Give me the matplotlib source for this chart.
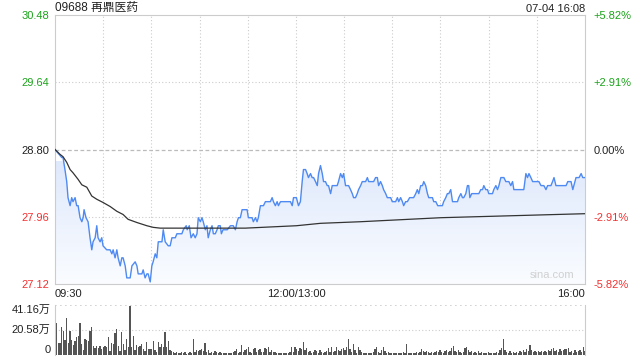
import numpy as np
import matplotlib
matplotlib.use("Agg")
import matplotlib.pyplot as plt
from matplotlib.colors import LinearSegmentedColormap

plt.rcParams['font.family'] = ['Liberation Sans', 'Noto Sans CJK SC', 'DejaVu Sans']

title = "09688 再鼎医药"
stamp = "07-04 16:08"
prev_close = 28.80
max_pct = 5.82
vol_max = 41.16  # 万

# minutes since 09:30 (lunch break removed), last price
price_t = [0, 4.2, 5.0, 6.2, 7.3, 8.1, 9.4, 10.4, 11.2, 12.5, 13.5, 14.4, 15.6, 16.7, 17.5,
           18.1, 19.3, 20.6, 21.8, 22.9, 23.7, 25.0, 26.0, 26.8, 28.1, 29.1, 29.9, 32.2, 34.3,
           35.4, 36.2, 37.4, 38.5, 39.3, 40.6, 41.6, 42.4, 43.7, 44.7, 46.8, 47.9, 49.9, 51.0,
           51.8, 54.1, 54.9, 56.1, 57.2, 58.0, 59.3,
           60.3, 61.1, 62.4, 63.4, 64.3, 66.6, 67.4, 68.6, 70.5, 71.7, 72.8, 74.9, 75.9, 79.0,
           79.9, 81.7, 82.3, 83.6, 84.7, 86.1, 87.3, 88.4, 89.2, 90.5, 91.5, 92.3, 93.6, 94.6,
           95.4, 96.7, 97.8, 98.6, 99.8, 100.9, 101.7, 102.9, 103.6, 104.6, 106.1, 107.3, 109.2,
           111.0, 112.3, 113.4, 114.2, 115.4, 116.5, 117.3, 118.5, 119.6, 120.4, 121.6,
           122.7, 123.5, 124.8, 125.8, 126.6, 127.9, 129.8, 131.0, 132.1, 132.9, 134.1, 135.2,
           136.0, 137.2, 138.3, 139.1, 140.4, 146.6, 147.7, 148.5, 150.3, 151.6, 152.8, 153.9,
           154.7, 156.0, 157.0, 157.8, 159.1, 160.1, 161.0, 162.2, 163.3, 164.1, 165.3, 166.4,
           167.2, 168.4, 169.5, 170.3, 171.6, 172.6, 175.7, 176.5, 177.8, 178.9, 179.7, 180.9,
           182.0, 182.8, 184.0,
           185.1, 185.9, 187.1, 188.2, 189.0, 190.3, 191.3, 193.4, 194.5, 195.3, 198.4, 199.6,
           200.7, 201.5, 202.7, 203.8, 204.6, 205.9, 206.9, 209.0, 210.0, 212.1, 213.2, 214.0,
           215.2, 216.3, 217.1, 218.3, 219.4, 220.8, 223.3, 224.6, 225.6, 226.5, 227.7, 228.8,
           229.6, 230.8, 231.9, 232.7, 235.0, 235.8, 237.1, 238.3, 241.2, 242.0, 243.3, 244.3,
           245.2, 246.4, 247.5, 250.6, 251.4,
           252.7, 253.7, 254.5, 255.8, 256.8, 257.6, 258.3, 259.5, 263.9, 265.1, 266.2, 267.0,
           268.2, 269.3, 270.1, 272.4, 273.2, 274.5, 275.5, 276.4, 277.6, 279.5, 280.7, 282.6,
           283.8, 284.9, 285.7, 291.9, 293.2, 294.2, 295.1, 296.3, 297.4, 301.3, 302.6, 304.4,
           305.7, 306.7, 308.8, 309.8, 310.7, 311.9, 318.2, 319.3, 321.3, 322.4, 324.4, 326.3,
           327.6, 328.6, 330.0]
price = [28.80, 28.70, 28.70, 28.55, 28.40, 28.20, 28.10, 28.20, 28.15, 28.20, 28.10, 28.10, 27.95, 27.90, 27.95,
         28.05, 27.95, 27.90, 27.70, 27.55, 27.65, 27.70, 27.85, 27.70, 27.65, 27.70, 27.60, 27.55, 27.55,
         27.50, 27.55, 27.45, 27.55, 27.45, 27.35, 27.45, 27.45, 27.35, 27.20, 27.20, 27.35, 27.40, 27.35,
         27.25, 27.25, 27.30, 27.20, 27.25, 27.25, 27.15,
         27.35, 27.40, 27.50, 27.45, 27.65, 27.65, 27.80, 27.65, 27.60, 27.60, 27.70, 27.70, 27.75, 27.75,
         27.80, 27.85, 27.80, 27.85, 27.70, 27.75, 27.70, 27.75, 27.95, 27.90, 27.95, 27.90, 27.80, 27.85,
         27.70, 27.80, 27.85, 27.75, 27.75, 27.80, 27.85, 27.85, 27.75, 27.80, 27.80, 27.80, 27.85,
         27.85, 27.80, 27.90, 27.95, 27.95, 28.05, 28.05, 28.05, 28.05, 27.95, 27.95,
         27.95, 27.90, 27.95, 27.90, 27.95, 28.10, 28.10, 28.15, 28.15, 28.15, 28.15, 28.20,
         28.15, 28.10, 28.15, 28.10, 28.15, 28.15, 28.10, 28.20, 28.20, 28.10, 28.15, 28.40,
         28.55, 28.55, 28.50, 28.45, 28.50, 28.45, 28.45, 28.40, 28.35, 28.50, 28.60, 28.50,
         28.40, 28.40, 28.35, 28.35, 28.25, 28.35, 28.35, 28.40, 28.50, 28.45, 28.50, 28.35,
         28.35, 28.35, 28.30,
         28.25, 28.20, 28.20, 28.25, 28.30, 28.35, 28.40, 28.40, 28.45, 28.40, 28.40, 28.45,
         28.45, 28.35, 28.40, 28.35, 28.30, 28.25, 28.20, 28.20, 28.15, 28.15, 28.20, 28.15,
         28.20, 28.15, 28.10, 28.15, 28.15, 28.20, 28.20, 28.25, 28.30, 28.25, 28.35, 28.35,
         28.40, 28.35, 28.25, 28.20, 28.20, 28.15, 28.15, 28.10, 28.10, 28.15, 28.20, 28.25,
         28.25, 28.30, 28.15, 28.15, 28.20,
         28.25, 28.20, 28.20, 28.25, 28.35, 28.35, 28.20, 28.25, 28.25, 28.30, 28.30, 28.35,
         28.30, 28.30, 28.25, 28.25, 28.30, 28.35, 28.30, 28.35, 28.45, 28.45, 28.40, 28.40,
         28.35, 28.40, 28.30, 28.30, 28.50, 28.45, 28.50, 28.45, 28.40, 28.40, 28.35, 28.35,
         28.30, 28.35, 28.35, 28.40, 28.45, 28.35, 28.35, 28.40, 28.40, 28.30, 28.45, 28.45,
         28.50, 28.45, 28.45]

# average price line
avg_t = [0, 3.1, 5.0, 7.3, 9.4, 11.2, 14.3, 16.7, 19.8, 22.9, 26.0, 29.9, 34.3, 38.5, 42.4,
         45.5, 51.0, 57.2, 61.1, 65.5, 118.5, 150.3, 165.3, 190.3, 240.2, 330.0]
avg_price = [28.80, 28.74, 28.71, 28.64, 28.55, 28.51, 28.43, 28.36, 28.33, 28.22, 28.18, 28.14,
             28.09, 28.03, 27.99, 27.93, 27.89, 27.85, 27.83, 27.82, 27.82, 27.85, 27.88, 27.90,
             27.95, 28.00]

# volume per minute, 万股
volume = [23.3, 26.1, 9.6, 9.6, 23.3, 19.5, 12.3, 30.2, 9.6, 19.5, 12.3, 8.2, 11.8, 14.5, 15.9,
          26.1, 9.1, 4.1, 13.2, 12.3, 11.8, 20.0, 22.8, 7.7, 5.5, 7.7, 5.5, 7.7, 4.9, 6.3, 7.7,
          6.9, 14.5, 3.6, 9.6, 9.1, 17.8, 21.4, 7.7, 3.6, 18.7, 9.1, 4.1, 13.2, 6.3, 40.6, 6.3,
          15.9, 4.1, 8.2, 6.9, 7.7, 9.1, 4.9, 3.6, 10.4, 4.9, 4.9, 4.9, 11.8, 4.1, 2.2, 11.0,
          6.9, 9.1, 6.3, 18.7, 6.9, 11.8, 4.1, 3.6, 2.2, 1.4, 2.7, 1.4, 1.4, 2.2, 1.4, 2.7, 0.8, 1.9,
          2.7, 1.9, 12.9, 2.7, 4.1, 3.3, 4.1, 4.7, 3.3, 9.6, 2.7, 4.1, 1.9, 2.7, 1.9, 3.3, 2.5,
          1.9, 2.7, 1.6, 1.9, 1.4, 1.4, 1.4, 1.9, 1.4, 2.5, 3.3, 4.7, 1.9, 2.7, 8.2, 2.7, 4.1,
          4.7, 6.9, 2.7, 1.9, 4.7, 5.5, 2.7, 4.1, 4.7, 2.7, 2.7, 5.5, 4.7, 6.3, 2.7, 4.1, 2.7,
          2.2, 1.4, 1.9, 1.4, 1.9, 1.4, 1.9, 1.4, 1.9, 2.7, 6.3, 2.7, 6.9, 4.7, 3.6, 5.5, 4.7,
          11.0, 4.1, 5.5, 2.7, 3.3, 1.9, 2.7, 4.1, 3.3, 1.9,
          4.1, 2.7, 1.9, 2.7, 3.3, 5.5, 2.7, 6.9, 2.7, 3.3, 6.3, 4.1, 3.3, 4.7, 5.5, 4.1, 6.9,
          12.9, 4.7, 2.7, 9.1, 4.1, 1.9, 6.3, 4.1, 2.7, 1.9, 1.9, 1.4, 1.9, 1.4, 1.9, 2.7, 4.7,
          6.3, 2.7, 1.9, 4.1, 6.3, 3.3, 1.9, 2.7, 1.9, 1.9, 1.4, 1.9, 1.4, 1.9, 1.9, 1.4, 2.7,
          1.9, 9.1, 1.9, 1.4, 1.9, 1.4, 1.9, 2.7, 1.9, 2.7, 4.7, 3.3, 2.7, 3.3, 2.7, 1.9, 2.7,
          1.9, 2.7, 3.3, 2.7, 4.1, 2.7, 1.9, 3.3, 4.1, 2.7, 3.6, 5.5, 7.7, 3.3, 2.7, 4.1, 2.7,
          1.9, 2.7, 5.5, 6.9, 4.1, 2.7, 3.3, 1.9, 2.7, 1.9, 3.3, 1.9, 2.7, 1.9, 1.4, 1.9, 2.7,
          1.9, 1.4, 1.9, 1.4, 2.7, 1.9, 4.1, 5.5, 12.9, 4.1, 2.7, 1.9, 3.3, 1.4, 2.7, 1.9, 2.7,
          1.9, 3.3, 2.7, 4.1, 2.7, 4.7, 3.3, 8.2, 4.1, 2.7, 3.3, 2.7, 3.3, 2.7, 3.3, 2.7, 3.3,
          2.7, 4.1, 3.3, 4.7, 5.5, 3.3, 4.1, 2.7, 4.7, 3.3, 4.1, 4.7, 4.7, 5.5, 2.7, 3.3, 1.9,
          4.1, 2.7, 3.3, 4.1, 2.7, 6.9, 3.3]

hi = prev_close * (1 + max_pct / 100)
lo = prev_close * (1 - max_pct / 100)
levels = [hi, (hi + prev_close) / 2, prev_close, (lo + prev_close) / 2, lo]
pct_labels = ["+5.82%", "+2.91%", "0.00%", "-2.91%", "-5.82%"]
level_colors = ["#1aa31a", "#1aa31a", "#222222", "#f23030", "#f23030"]

fig = plt.figure(figsize=(6.4, 3.6), dpi=100)
ax = fig.add_axes([55 / 640, 1 - 284 / 360, 530 / 640, 269 / 360])
axv = fig.add_axes([55 / 640, 1 - 355 / 360, 530 / 640, 50 / 360])

# gradient fill under the price line
poly = ax.fill_between(price_t, price, lo, facecolor="none", edgecolor="none")
cmap = LinearSegmentedColormap.from_list("fade", ["#fafcff", "#dfe9fc"])
grad = np.linspace(0, 1, 256).reshape(-1, 1)
im = ax.imshow(grad, cmap=cmap, aspect="auto", origin="lower",
               extent=[0, 330, lo, 28.65], zorder=1)
im.set_clip_path(poly.get_paths()[0], transform=ax.transData)

ax.plot(price_t, price, color="#4e8af2", lw=1.0, zorder=3)
ax.plot(avg_t, avg_price, color="#333333", lw=0.9, zorder=3)

ax.set_xlim(0, 330)
ax.set_ylim(lo, hi)
for x in range(30, 330, 30):
    ax.axvline(x, color="#cccccc", lw=0.8, ls=(0, (1, 2)), zorder=0)
for y in levels[1:4]:
    if y == prev_close:
        ax.axhline(y, color="#bbbbbb", lw=0.9, ls=(0, (3, 2)), zorder=0)
    else:
        ax.axhline(y, color="#cccccc", lw=0.8, ls=(0, (1, 2)), zorder=0)

for s in ax.spines.values():
    s.set_color("#cccccc")
ax.set_xticks([])
ax.set_yticks(levels)
ax.set_yticklabels([f"{v:.2f}" for v in levels], fontsize=8)
for lab, c in zip(ax.get_yticklabels(), level_colors):
    lab.set_color(c)
ax.tick_params(axis="y", length=0, pad=4)

axr = ax.twinx()
axr.set_ylim(lo, hi)
axr.set_yticks(levels)
axr.set_yticklabels(pct_labels, fontsize=8)
for lab, c in zip(axr.get_yticklabels(), level_colors):
    lab.set_color(c)
axr.tick_params(axis="y", length=0, pad=6)
for s in axr.spines.values():
    s.set_visible(False)

ax.text(0, 1.005, title, transform=ax.transAxes, fontsize=8.5, color="#222222",
        ha="left", va="bottom")
ax.text(1, 1.005, stamp, transform=ax.transAxes, fontsize=8, color="#222222",
        ha="right", va="bottom")
ax.text(0, -0.02, "09:30", transform=ax.transAxes, fontsize=8, color="#222222",
        ha="left", va="top")
ax.text(150 / 330, -0.02, "12:00/13:00", transform=ax.transAxes, fontsize=8,
        color="#222222", ha="center", va="top")
ax.text(1, -0.02, "16:00", transform=ax.transAxes, fontsize=8, color="#222222",
        ha="right", va="top")
ax.text(0.98, 0.015, "sina.com", transform=ax.transAxes, fontsize=8, color="#d0d0d0",
        ha="right", va="bottom")

# volume panel
vol_t = np.linspace(0, 330, len(volume))
axv.bar(vol_t, volume, width=0.7, color="#555555", zorder=2)
axv.set_xlim(0, 330)
axv.set_ylim(0, vol_max)
axv.axhline(vol_max / 2, color="#cccccc", lw=0.8, ls=(0, (1, 2)), zorder=0)
axv.axhline(vol_max, color="#cccccc", lw=1.2, ls=(0, (1, 2)), zorder=0)
axv.set_xticks([])
axv.set_yticks([])
for k in ["top", "bottom"]:
    axv.spines[k].set_visible(False)
axv.spines["left"].set_color("#cccccc")
axv.spines["right"].set_color("#cccccc")
axv.text(-0.008, vol_max, "41.16万", transform=axv.get_yaxis_transform(), fontsize=8,
         color="#222222", ha="right", va="top")
axv.text(-0.008, vol_max / 2, "20.58万", transform=axv.get_yaxis_transform(), fontsize=8,
         color="#222222", ha="right", va="center")
axv.text(-0.008, 0, "0", transform=axv.get_yaxis_transform(), fontsize=8,
         color="#222222", ha="right", va="bottom")

fig.savefig("out.png", dpi=100)
